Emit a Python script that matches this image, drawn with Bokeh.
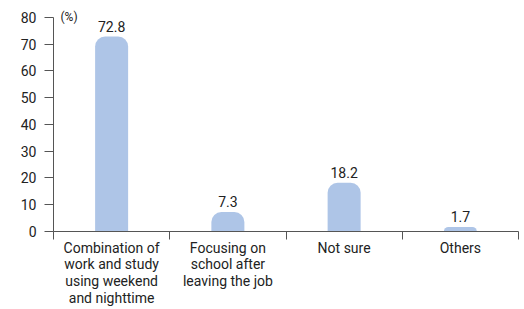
from bokeh.plotting import figure
from bokeh.models import FixedTicker, Label, ColumnDataSource, Range1d
from bokeh.embed import file_html
from bokeh.resources import INLINE
from bokeh.core.properties import value

categories = ["Combination of\nwork and study\nusing weekend\nand nighttime",
              "Focusing on\nschool after\nleaving the job",
              "Not sure",
              "Others"]
values = [72.8, 7.3, 18.2, 1.7]
value_labels = ["72.8", "7.3", "18.2", "1.7"]
y_ticks = [0, 10, 20, 30, 40, 50, 60, 70, 80]

FONT = "Roboto"
TXT = "#222222"
AX = "#555555"
BAR = "#aec5e7"

xs = [i + 0.5 for i in range(len(categories))]
src = ColumnDataSource(dict(x=xs, top=values, lab=value_labels))

p = figure(output_backend="svg", toolbar_location=None,
           frame_width=465, frame_height=225,
           x_range=Range1d(0, len(categories)), y_range=Range1d(0, 84),
           min_border_left=53, min_border_right=4, min_border_top=6, min_border_bottom=76)
p.outline_line_color = None
p.grid.visible = False
p.background_fill_color = "white"
p.border_fill_color = "white"

p.vbar(x="x", top="top", width=0.284, bottom=0, source=src, fill_color=BAR,
       line_color=None, border_radius=[10, 10, 0, 0])

p.text(x="x", y="top", text="lab", source=src, y_offset=-5,
       text_align="center", text_baseline="bottom",
       text_font=value(FONT), text_font_size="14px", text_color=TXT)

p.add_layout(Label(x=0, y=80, x_offset=7, text="(%)", text_baseline="middle",
                   text_font=FONT, text_font_size="12px", text_color=TXT))

# y axis
ya = p.yaxis[0]
ya.ticker = FixedTicker(ticks=y_ticks)
ya.bounds = (0, 80)
ya.axis_line_color = AX
ya.major_tick_line_color = AX
ya.major_tick_out = 9
ya.major_tick_in = 0
ya.minor_tick_line_color = None
ya.major_label_standoff = 8
ya.major_label_text_font = FONT
ya.major_label_text_font_size = "14px"
ya.major_label_text_color = TXT

# x axis
xa = p.xaxis[0]
xa.ticker = FixedTicker(ticks=xs, minor_ticks=list(range(len(categories) + 1)))
xa.major_label_overrides = {x: c for x, c in zip(xs, categories)}
xa.axis_line_color = AX
xa.major_tick_line_color = None
xa.major_tick_out = 0
xa.major_tick_in = 0
xa.minor_tick_line_color = AX
xa.minor_tick_out = 8
xa.minor_tick_in = 0
xa.major_label_standoff = 0
xa.major_label_text_font = FONT
xa.major_label_text_font_size = "14px"
xa.major_label_text_color = TXT
xa.major_label_text_line_height = 1.05

open("out.html", "w").write(file_html(p, INLINE))
